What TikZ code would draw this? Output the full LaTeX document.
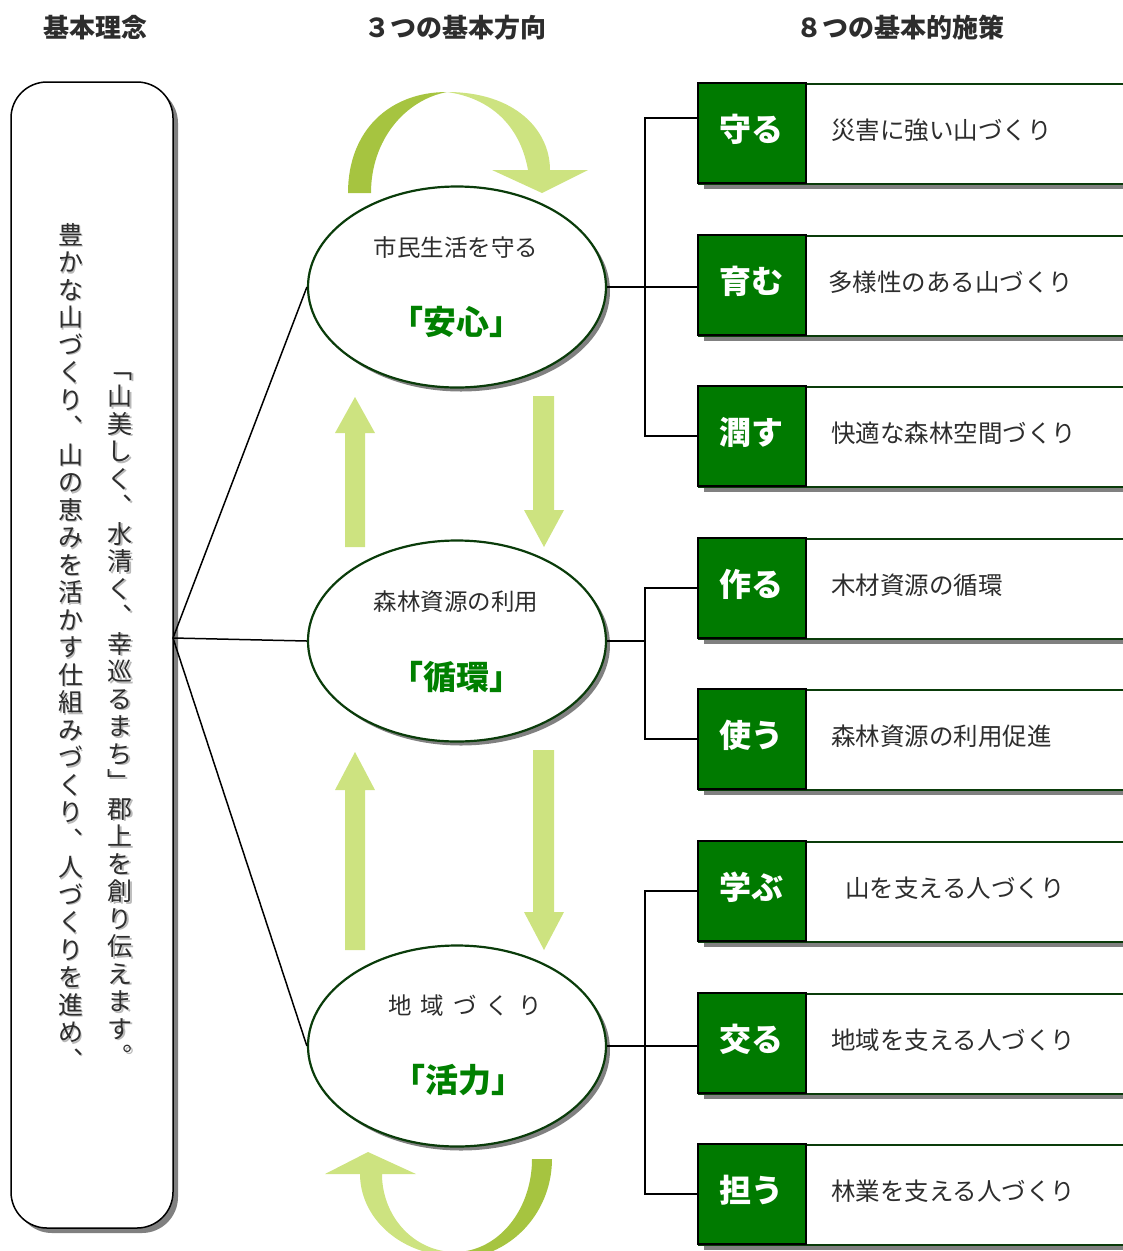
\documentclass[tikz,border=0pt]{standalone}
\usepackage{fontspec}
\setmainfont{Noto Sans CJK JP}
\usetikzlibrary{shapes.geometric,shadows}

\definecolor{lightg}{RGB}{205,227,128}
\definecolor{darkarc}{RGB}{166,196,64}
\definecolor{labg}{RGB}{0,122,0}
\definecolor{ellb}{RGB}{10,60,10}
\definecolor{txtg}{RGB}{0,128,0}
\definecolor{shad}{RGB}{128,128,128}
\definecolor{txt}{RGB}{45,45,45}

% vertical stacking of characters, fixed pitch
\newcommand\vcell[1]{\hbox to 27.5pt{\hss\vrule width 0pt height 23.25pt depth 4.25pt\relax #1\hss}}
\def\vloop#1{\ifx\relax#1\else\vcell{#1}\expandafter\vloop\fi}
\newcommand\vchars[1]{\vbox{\offinterlineskip\vloop#1\relax}}

\begin{document}
\begin{tikzpicture}[x=1pt,y=-1pt,
  hdr/.style={font=\fontsize{26}{28}\selectfont\bfseries, text=txt, inner sep=0},
  ell/.style={ellipse, draw=ellb, line width=2.2pt, fill=white, minimum width=298, minimum height=201, inner sep=0,
     drop shadow={shadow xshift=4pt, shadow yshift=-4pt, fill=shad, opacity=1}},
  small/.style={font=\fontsize{23.5}{25}\selectfont, text=txt, inner sep=0},
  big/.style={font=\fontsize{33}{35}\selectfont\bfseries, text=txtg, inner sep=0},
  labbox/.style={rectangle, fill=labg, draw=black, line width=2pt, minimum width=108, minimum height=100, inner sep=0},
  descbox/.style={rectangle, fill=white, draw=ellb, line width=2pt, minimum width=440, minimum height=100, inner sep=0,
     drop shadow={shadow xshift=5pt, shadow yshift=-5pt, fill=shad, opacity=1}},
  labtxt/.style={font=\fontsize{32}{34}\selectfont\bfseries, text=white, inner sep=0},
  desctxt/.style={font=\fontsize{24.5}{26}\selectfont, text=txt, inner sep=0, anchor=west},
  conn/.style={draw=black, line width=1.5pt},
  vcol/.style={font=\fontsize{25}{27.5}\selectfont, anchor=north, inner sep=0},
  bigarrow/.style={fill=lightg},
]
\useasboundingbox (0,0) rectangle (1123,1251);
\clip (0,0) rectangle (1123,1251);

% headers
\node[hdr] (h1) at (95,28) {基本理念};
\node[hdr] (h2) at (455,28) {３つの基本方向};
\node[hdr] (h3) at (900,28) {８つの基本的施策};

% left box
\node[rectangle, rounded corners=36pt, draw=black, line width=1.5pt, fill=white,
      minimum width=162, minimum height=1146, inner sep=0,
      drop shadow={shadow xshift=5pt, shadow yshift=-5pt, fill=shad, opacity=1}] (lbox) at (92,655) {};
\node[vcol, text=shad!55] (colLs) at (72.5,222.5) {\vchars{豊かな山づくり︑山の恵みを活かす仕組みづくり︑人づくりを進め︑}};
\node[vcol, text=txt] (colL) at (71,221) {\vchars{豊かな山づくり︑山の恵みを活かす仕組みづくり︑人づくりを進め︑}};
\node[vcol, text=shad!55] (colRs) at (121.5,356.5) {\vchars{﹁山美しく︑水清く︑幸巡るまち﹂郡上を創り伝えます︒}};
\node[vcol, text=txt] (colR) at (120,355) {\vchars{﹁山美しく︑水清く︑幸巡るまち﹂郡上を創り伝えます︒}};
\coordinate (lb) at (173,638);

% curved arrows
\fill[darkarc] (348,193) .. controls (348,130) and (390,92) .. (447,92)
   .. controls (405,100) and (371,140) .. (371,193) -- cycle;
\fill[lightg] (447,92) .. controls (515,92) and (550,130) .. (550,170) -- (588,170) -- (542,193) -- (492,170) -- (528,170)
   .. controls (520,125) and (490,98) .. (447,92) -- cycle;
\fill[darkarc] plot[domain=0:90, samples=40, variable=\a] ({455+97*cos(\a)},{1159+100*sin(\a)})
   -- plot[domain=90:0, samples=40, variable=\a] ({455+77*cos(\a)},{1159+93*sin(\a)}) -- cycle;
\fill[lightg] plot[domain=90:180, samples=40, variable=\a] ({455+95*cos(\a)},{1174+82*sin(\a)})
   -- (325,1174) -- (368,1152) -- (416,1174) -- (382,1174)
   -- plot[domain=180:90, samples=40, variable=\a] ({455+73*cos(\a)},{1174+78*sin(\a)}) -- cycle;

% straight arrows
\fill[bigarrow] (345,547) -- (345,433) -- (335,433) -- (355,397) -- (375,433) -- (365,433) -- (365,547) -- cycle;
\fill[bigarrow] (533,396) -- (554,396) -- (554,510) -- (564,510) -- (544,547) -- (524,510) -- (533,510) -- cycle;
\fill[bigarrow] (345,950) -- (345,790) -- (335,790) -- (355,752) -- (375,790) -- (365,790) -- (365,950) -- cycle;
\fill[bigarrow] (533,750) -- (554,750) -- (554,912) -- (564,912) -- (544,950) -- (524,912) -- (533,912) -- cycle;

% ellipses
\node[ell] (e1) at (457,287) {};
\node[ell] (e2) at (457,641) {};
\node[ell] (e3) at (457,1046) {};
\node[small] (s1) at (456,248) {市民生活を守る};
\node[big] (g1) at (456,322) {「安心」};
\node[small] (s2) at (456,602) {森林資源の利用};
\node[big] (g2) at (456,677) {「循環」};
\node[small] (s3) at (465,1006) {\spaceskip=9pt 地 域 づ く り};
\node[big] (g3) at (458,1080) {「活力」};

% boxes
\foreach \i/\yy/\lab/\desc/\dx in {
  1/83/守る/災害に強い山づくり/831,
  2/235/育む/多様性のある山づくり/828,
  3/386/潤す/快適な森林空間づくり/831,
  4/538/作る/木材資源の循環/831,
  5/689/使う/森林資源の利用促進/831,
  6/841/学ぶ/山を支える人づくり/845,
  7/993/交る/地域を支える人づくり/831,
  8/1144/担う/林業を支える人づくり/831}{
  \node[descbox, anchor=north west] (box\i) at (698,\yy) {};
  \node[labbox] (lab\i) at (752,\yy+50) {};
  \node[labtxt] (lt\i) at (751,\yy+46) {\lab};
  \node[desctxt] (dt\i) at (\dx,\yy+47) {\desc};
}

% connectors left
\draw[conn] (lb) -- (e1.west);
\draw[conn] (lb) -- (e2.west);
\draw[conn] (lb) -- (e3.west);

% connectors right
\coordinate (bus) at (645,0);
\coordinate (j1) at (698,118);
\draw[conn] (e1.east) -- (e1.east -| lab2.west);
\draw[conn] (j1) -- (j1 -| bus) |- (lab3.west);
\draw[conn] (e2.east) -- (e2.east -| bus);
\draw[conn] (lab4.west) -| (bus |- lab5.west) -- (lab5.west);
\draw[conn] (e3.east) -- (e3.east -| lab7.west);
\draw[conn] (lab6.west) -| (bus |- lab8.west) -- (lab8.west);
\end{tikzpicture}
\end{document}
